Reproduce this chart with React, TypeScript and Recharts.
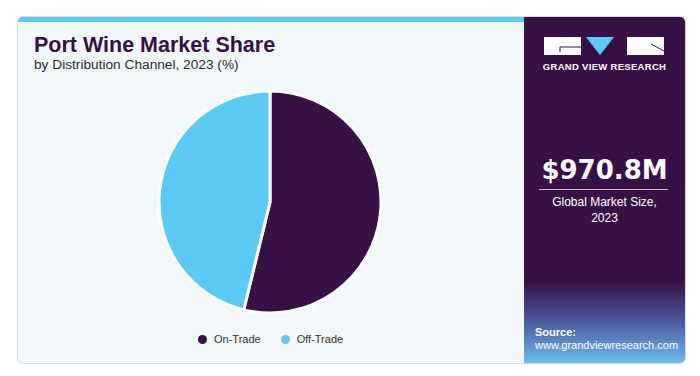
import { PieChart, Pie, Cell, Legend } from 'recharts';

const channels = ['On-Trade', 'Off-Trade'];
const shares = [53.8, 46.2];
const colors = ['#371146', '#5bcbf5'];

const chartData = channels.map((name, i) => ({ name, value: shares[i] }));

const font = '"Liberation Sans", Arial, sans-serif';

export default function App() {
  return (
    <div style={{ position: 'absolute', left: 0, top: 0, width: 700, height: 376, background: '#fff', fontFamily: font }}>
      {/* card */}
      <div
        style={{
          position: 'absolute', left: 17, top: 16, width: 669, height: 348,
          border: '1px solid #d9dde2', borderRadius: 6, background: '#f3f8fb',
          overflow: 'hidden', boxSizing: 'border-box',
        }}
      >
        <div style={{ position: 'absolute', left: 0, top: 0, width: 506, height: 5, background: '#5bcbf5' }} />
        <div
          style={{
            position: 'absolute', left: 506, top: 0, width: 163, height: 348,
            background: 'linear-gradient(180deg, #371146 0%, #371146 76%, #4a4f93 86%, #5a86c4 93%, #6cc3ee 100%)',
          }}
        />
      </div>

      {/* title */}
      <div style={{ position: 'absolute', left: 34, top: 33, fontSize: 21.5, fontWeight: 700, color: '#371146' }}>
        Port Wine Market Share
      </div>
      <div style={{ position: 'absolute', left: 34, top: 57, fontSize: 13.7, color: '#2b2b2b' }}>
        by Distribution Channel, 2023 (%)
      </div>

      {/* logo */}
      <svg style={{ position: 'absolute', left: 0, top: 0 }} width={700} height={376}>
        <rect x={544} y={37} width={37} height={18} fill="#fff" />
        <line x1={560} y1={47} x2={581} y2={47} stroke="#371146" strokeWidth={1} />
        <line x1={560} y1={47} x2={560} y2={52} stroke="#371146" strokeWidth={1} />
        <polygon points="586,37 614,37 600,55" fill="#5bcbf5" />
        <rect x={627} y={37} width={37} height={18} fill="#fff" />
        <line x1={651} y1={44} x2={664} y2={51} stroke="#371146" strokeWidth={1} />
        <line x1={539} y1={189.5} x2={668} y2={189.5} stroke="#c9b8d6" strokeWidth={1} />
      </svg>
      <div style={{ position: 'absolute', left: 523, width: 163, top: 61, textAlign: 'center', fontSize: 9.5, fontWeight: 700, color: '#fff', letterSpacing: 0.3 }}>
        GRAND VIEW RESEARCH
      </div>
      <div style={{ position: 'absolute', left: 523, width: 163, top: 155, textAlign: 'center', fontSize: 26, fontWeight: 700, color: '#fff', fontFamily: '"DejaVu Sans", sans-serif' }}>
        $970.8M
      </div>
      <div style={{ position: 'absolute', left: 523, width: 163, top: 194, textAlign: 'center', fontSize: 12, color: '#fff', lineHeight: '16px' }}>
        Global Market Size,
        <br />
        2023
      </div>
      <div style={{ position: 'absolute', left: 535, top: 326, fontSize: 11, color: '#fff', lineHeight: '13px' }}>
        <b>Source:</b>
        <br />
        www.grandviewresearch.com
      </div>

      {/* pie */}
      <div style={{ position: 'absolute', left: 17, top: 16 }}>
        <PieChart width={506} height={348}>
          <Pie
            data={chartData}
            dataKey="value"
            nameKey="name"
            cx={248}
            cy={181}
            outerRadius={111}
            startAngle={90}
            endAngle={-270}
            stroke="#ffffff"
            strokeWidth={3}
            isAnimationActive={false}
          >
            {chartData.map((entry, index) => (
              <Cell key={`cell-${index}`} fill={colors[index]} />
            ))}
          </Pie>
          <Legend
            verticalAlign="bottom"
            wrapperStyle={{ left: 0, top: 317, width: 506 }}
            content={() => (
              <div style={{ display: 'flex', justifyContent: 'flex-start', gap: 20, paddingLeft: 181, fontFamily: font }}>
                {chartData.map((entry, index) => (
                  <div key={`legend-${index}`} style={{ display: 'flex', alignItems: 'center', gap: 7 }}>
                    <div style={{ width: 9, height: 9, borderRadius: '50%', background: colors[index] }} />
                    <span style={{ fontSize: 11, color: '#333' }}>{entry.name}</span>
                  </div>
                ))}
              </div>
            )}
          />
        </PieChart>
      </div>
    </div>
  );
}
